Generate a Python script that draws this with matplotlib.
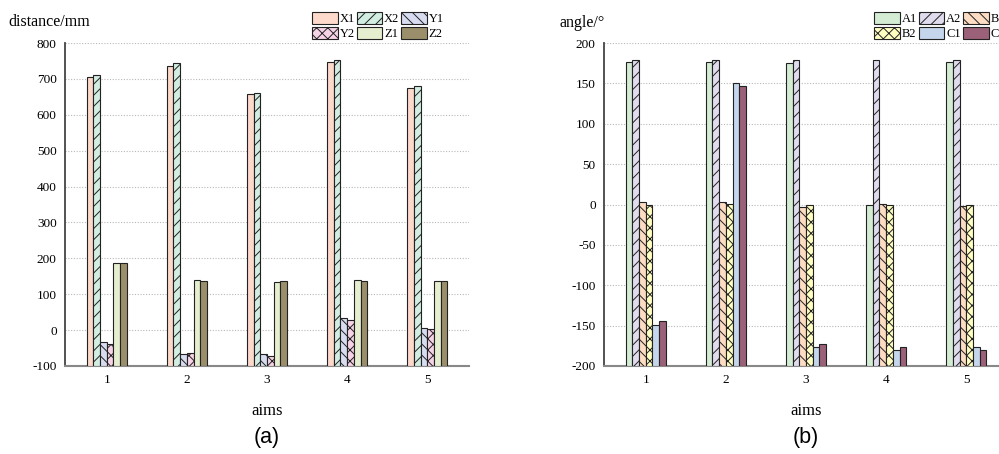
import matplotlib
matplotlib.use('Agg')
import matplotlib.pyplot as plt
import numpy as np

plt.rcParams['font.family'] = ['Liberation Serif', 'DejaVu Serif']
plt.rcParams['hatch.linewidth'] = 0.7
plt.rcParams['axes.unicode_minus'] = False

aims = [1, 2, 3, 4, 5]

# (a) distances
dist_labels = ['X1', 'X2', 'Y1', 'Y2', 'Z1', 'Z2']
X1 = [706, 737, 658, 748, 674]
X2 = [710, 743, 660, 754, 680]
Y1 = [-34, -67, -67, 33, 6]
Y2 = [-39, -65, -72, 29, 3]
Z1 = [188, 139, 134, 139, 137]
Z2 = [186, 136, 137, 136, 136]

# (b) angles
angle_labels = ['A1', 'A2', 'B1', 'B2', 'C1', 'C2']
A1 = [176, 176, 175, 0, 177]
A2 = [179, 179, 179, 179, 179]
B1 = [3, 3, -3, 1, -2]
B2 = [0, 1, 0, 0, 0]
C1 = [-149, 151, -177, -180, -177]
C2 = [-144, 147, -173, -176, -180]

dist_colors = ['#fdd9cc', '#d2ede2', '#d8dcf0', '#f6d3e6', '#e5efcf', '#9b8f6b']
dist_hatch = ['', '///', '\\\\\\', 'xxx', '', '']
angle_colors = ['#d3ecd3', '#e0dcee', '#fcdcc2', '#ffffc2', '#c5d6ec', '#9b6179']
angle_hatch = ['', '///', '\\\\\\', 'xxx', '', '']

fig = plt.figure(figsize=(9.99, 4.54), dpi=100)


def draw_panel(rect, series, labels, colors, hatches, ylim, ystep, ylabel, ylabel_pos,
               leg_pos, tag, tag_x):
    ax = fig.add_axes(rect)
    x = np.array(aims, dtype=float)
    w = 0.5 / 6
    for i, (vals, lab) in enumerate(zip(series, labels)):
        vals = np.array(vals, dtype=float)
        ax.bar(x + (i - 2.5) * w, vals - ylim[0], bottom=ylim[0], width=w,
               color=colors[i], edgecolor='#222222', linewidth=0.8,
               hatch=hatches[i], label=lab, zorder=3)
    ax.set_xlim(0.48, 5.52)
    ax.set_ylim(*ylim)
    ax.set_yticks(np.arange(ylim[0], ylim[1] + 1, ystep))
    ax.set_xticks(aims)
    ax.tick_params(length=0, labelsize=9.5, pad=6)
    ax.yaxis.grid(True, linestyle=(0, (1, 1.5)), color='#b8b8b8', linewidth=0.8, zorder=0)
    for s in ['top', 'right']:
        ax.spines[s].set_visible(False)
    ax.spines['left'].set_color('#444444')
    ax.spines['left'].set_linewidth(1.3)
    ax.spines['bottom'].set_color('#888888')
    ax.spines['bottom'].set_linewidth(1.5)
    ax.set_xlabel('aims', fontsize=12, labelpad=12)

    fig.text(ylabel_pos[0], ylabel_pos[1], ylabel, fontsize=11.5, va='center', ha='left')

    h, l = ax.get_legend_handles_labels()
    order = [0, 3, 1, 4, 2, 5]
    ax.legend([h[k] for k in order], [l[k] for k in order], ncol=3,
              loc='lower left', bbox_to_anchor=leg_pos, bbox_transform=fig.transFigure,
              frameon=False, fontsize=9, handlelength=2.05, handleheight=1.1,
              handletextpad=0.15, columnspacing=0.15, labelspacing=0.12,
              borderpad=0, borderaxespad=0)
    fig.text(tag_x, 1 - 437 / 454, tag, fontsize=15.5, ha='center', va='center',
             family=['Liberation Sans', 'DejaVu Sans'])
    return ax


bottom = (454 - 366) / 454
height = 323 / 454
draw_panel([65 / 999, bottom, 404 / 999, height],
           [X1, X2, Y1, Y2, Z1, Z2], dist_labels, dist_colors, dist_hatch,
           (-100, 800), 100, 'distance/mm', (8 / 999, 1 - 22 / 454),
           (312 / 999, 1 - 40 / 454), '(a)', 267 / 999)
draw_panel([604 / 999, bottom, 404 / 999, height],
           [A1, A2, B1, B2, C1, C2], angle_labels, angle_colors, angle_hatch,
           (-200, 200), 50, 'angle/°', (560 / 999, 1 - 23 / 454),
           (874 / 999, 1 - 40 / 454), '(b)', 806 / 999)

fig.savefig('out.png', dpi=100)
